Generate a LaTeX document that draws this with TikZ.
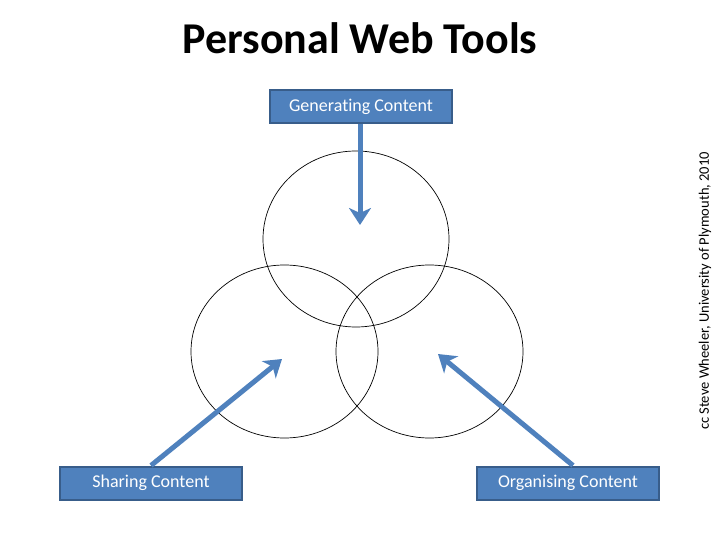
\documentclass[tikz,border=0pt]{standalone}
\usepackage{fontspec}
\setmainfont{Carlito}[Ligatures=NoCommon]
\usetikzlibrary{arrows.meta}
\definecolor{boxfill}{HTML}{4F81BD}
\definecolor{boxline}{HTML}{385D8A}
\begin{document}
\begin{tikzpicture}[x=1pt,y=-1pt,
  cbox/.style={draw=boxline,line width=2pt,fill=boxfill,text=white,minimum width=182pt,minimum height=33pt,inner sep=0pt,font=\fontsize{18}{20}\selectfont},
  ring/.style={draw=black,line width=0.7pt},
  bluearrow/.style={draw=boxfill,line width=5pt,-{Stealth[length=17pt,width=22pt,inset=5pt]}}]
\useasboundingbox (0,0) rectangle (720,540);
\node[anchor=base,font=\fontsize{44}{48}\selectfont\bfseries] (title) at (360,54) {Personal Web Tools};
\draw[ring] (356,239) ellipse [x radius=93pt, y radius=88pt];
\draw[ring] (284.5,351.5) ellipse [x radius=93.5pt, y radius=86.5pt];
\draw[ring] (429.5,351.5) ellipse [x radius=93.5pt, y radius=86.5pt];
\node[cbox] (gen) at (361,107) {Generating Content};
\node[cbox] (sh) at (151,483) {Sharing Content};
\node[cbox] (org) at (568,483) {Organising Content};
\coordinate (tg) at (360,225);
\coordinate (ts) at (282,359);
\coordinate (to) at (438,354);
\draw[bluearrow] (gen.south -| tg) -- (tg);
\draw[bluearrow] (sh.north) -- (ts);
\draw[bluearrow] ([xshift=5pt]org.north) -- (to);
\node[rotate=90,font=\fontsize{14.5}{16}\selectfont] (credit) at (705,291) {cc Steve Wheeler, University of Plymouth, 2010};
\end{tikzpicture}
\end{document}
